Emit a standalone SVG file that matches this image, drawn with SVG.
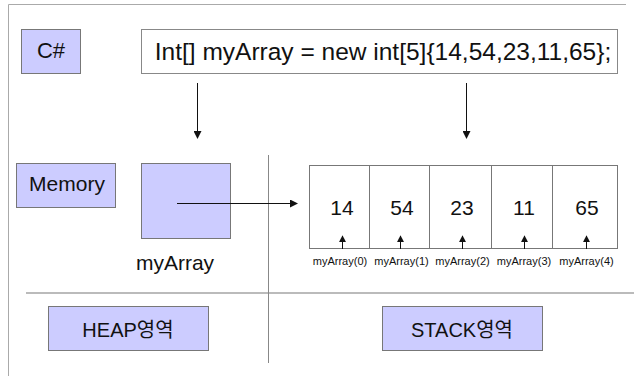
<svg xmlns="http://www.w3.org/2000/svg" width="634" height="376" viewBox="0 0 634 376">
<defs>
<marker id="ah" viewBox="0 0 8 8" refX="7" refY="4" markerWidth="8" markerHeight="8" markerUnits="userSpaceOnUse" orient="auto">
<path d="M0,0 L8,4 L0,8 Z" fill="#111"/>
</marker>
<marker id="ahs" viewBox="0 0 8 8" refX="7" refY="4" markerWidth="7" markerHeight="7" markerUnits="userSpaceOnUse" orient="auto">
<path d="M0,0 L8,4 L0,8 Z" fill="#111"/>
</marker>
</defs>
<style>
.t{font-family:"Liberation Sans","Noto Sans CJK KR",Arial,sans-serif;fill:#111;text-anchor:middle}
.box{fill:#ccccff;stroke:#777;stroke-width:1}
.cell{fill:#fff;stroke:#777;stroke-width:1}
.conn{stroke:#111;stroke-width:1;fill:none}
.div{stroke:#aaa;stroke-width:1;fill:none}
</style>
<rect x="0" y="0" width="634" height="376" fill="#fff"/>
<g id="frame">
<path d="M8.5,376 V4.5 H626" class="div"/>
<line x1="26" y1="293" x2="634" y2="293" stroke="#bbb" stroke-width="2"/>
<line x1="268.5" y1="155" x2="268.5" y2="363" stroke="#888" stroke-width="1"/>
</g>
<g id="node-csharp">
<rect class="box" x="21.5" y="29.5" width="59" height="44"/>
<text class="t" x="51" y="58" font-size="22">C#</text>
</g>
<g id="node-code">
<rect x="141.5" y="29.5" width="476" height="44" fill="#fff" stroke="#888"/>
<text class="t" x="383" y="60" font-size="24.5">Int[] myArray = new int[5]{14,54,23,11,65};</text>
</g>
<g id="node-memory">
<rect class="box" x="16.5" y="163.5" width="99" height="44"/>
<text class="t" x="67" y="191" font-size="21">Memory</text>
</g>
<g id="node-myarray-ref">
<rect class="box" x="141.5" y="163.5" width="89" height="75"/>
<text class="t" x="175" y="270" font-size="21">myArray</text>
</g>
<g id="node-array">
<rect class="cell" x="309.5" y="165.5" width="60" height="83"/>
<rect class="cell" x="369.5" y="165.5" width="60" height="83"/>
<rect class="cell" x="429.5" y="165.5" width="62" height="83"/>
<rect class="cell" x="491.5" y="165.5" width="61" height="83"/>
<rect class="cell" x="552.5" y="165.5" width="65" height="83"/>
<text class="t" x="342" y="215" font-size="21">14</text>
<text class="t" x="402" y="215" font-size="21">54</text>
<text class="t" x="462" y="215" font-size="21">23</text>
<text class="t" x="524" y="215" font-size="21">11</text>
<text class="t" x="587" y="215" font-size="21">65</text>
<text class="t" x="340" y="265" font-size="11">myArray(0)</text>
<text class="t" x="401.5" y="265" font-size="11">myArray(1)</text>
<text class="t" x="462.5" y="265" font-size="11">myArray(2)</text>
<text class="t" x="524" y="265" font-size="11">myArray(3)</text>
<text class="t" x="586.5" y="265" font-size="11">myArray(4)</text>
</g>
<g id="node-heap">
<rect class="box" x="48.5" y="306.5" width="160" height="44"/>
<text class="t" x="128" y="337" font-size="20">HEAP영역</text>
</g>
<g id="node-stack">
<rect class="box" x="382.5" y="306.5" width="160" height="44"/>
<text class="t" x="462" y="337" font-size="20">STACK영역</text>
</g>
<g id="connectors">
<line class="conn" x1="197.5" y1="83" x2="197.5" y2="138" marker-end="url(#ah)"/>
<line class="conn" x1="466.5" y1="83" x2="466.5" y2="138" marker-end="url(#ah)"/>
<line class="conn" x1="177" y1="203.5" x2="297" y2="203.5" marker-end="url(#ah)"/>
<line class="conn" x1="342.5" y1="249" x2="342.5" y2="236" marker-end="url(#ahs)"/>
<line class="conn" x1="400.5" y1="249" x2="400.5" y2="236" marker-end="url(#ahs)"/>
<line class="conn" x1="462.5" y1="249" x2="462.5" y2="236" marker-end="url(#ahs)"/>
<line class="conn" x1="524.5" y1="249" x2="524.5" y2="236" marker-end="url(#ahs)"/>
<line class="conn" x1="586.5" y1="249" x2="586.5" y2="236" marker-end="url(#ahs)"/>
</g>
</svg>
